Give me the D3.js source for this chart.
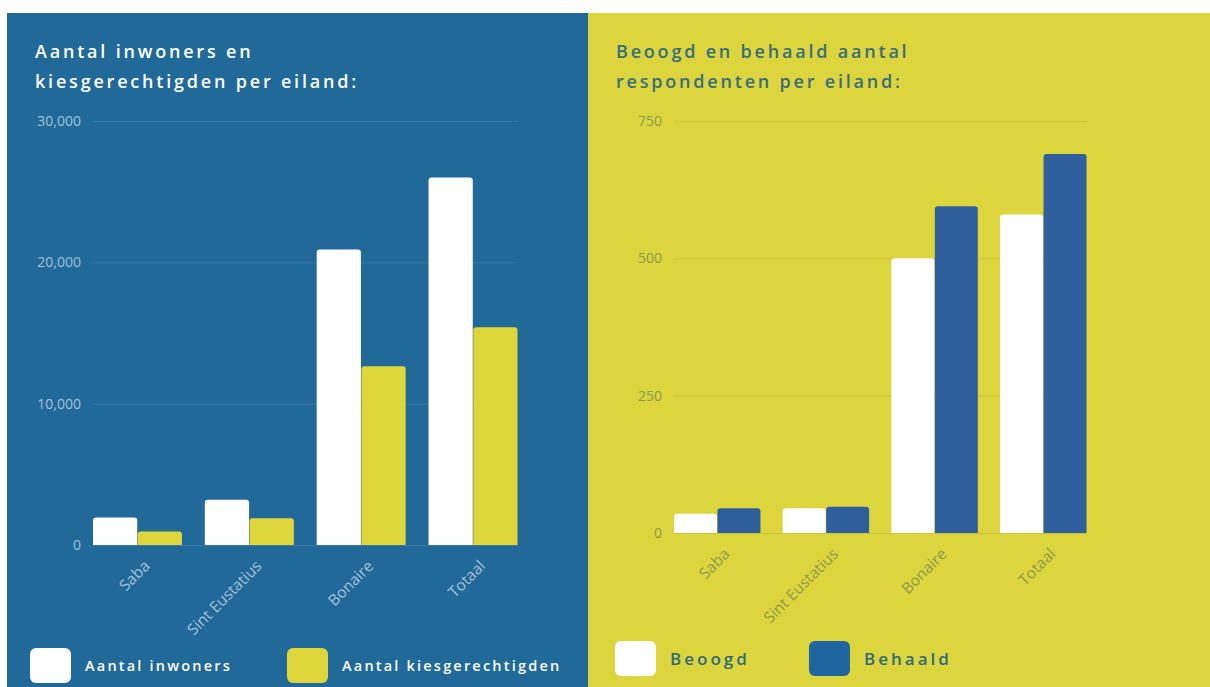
<!DOCTYPE html>
<html>
<head>
<meta charset="utf-8">
<script src="https://cdn.jsdelivr.net/npm/d3@7"></script>
<style>
  body { margin: 0; background: #fff; }
  svg { display: block; font-family: "Open Sans", sans-serif; }
</style>
</head>
<body>
<div class="chart"></div>
<script>
// DATA ------------------------------
let categories = ["Saba", "Sint Eustatius", "Bonaire", "Totaal"];
let inwoners = [1950, 3200, 20900, 26000];
let kiesgerechtigden = [950, 1900, 12650, 15400];
let beoogd = [35, 45, 500, 580];
let behaald = [45, 48, 595, 690];
let leftTicks = [0, 10000, 20000, 30000];
let rightTicks = [0, 250, 500, 750];

let svg = d3.select(".chart")
  .append("svg")
  .attr("width", 1210)
  .attr("height", 687);

// panel backgrounds
svg.append("rect").attr("x", 7).attr("y", 13).attr("width", 582).attr("height", 674).attr("fill", "#206999");
svg.append("rect").attr("x", 588).attr("y", 13).attr("width", 622).attr("height", 674).attr("fill", "#dcd53d");

// rect with rounded top corners
function topRounded(x, y, w, h, r) {
  r = Math.min(r, h, w / 2);
  return "M" + x + "," + (y + h) +
    "V" + (y + r) +
    "Q" + x + "," + y + " " + (x + r) + "," + y +
    "H" + (x + w - r) +
    "Q" + (x + w) + "," + y + " " + (x + w) + "," + (y + r) +
    "V" + (y + h) + "Z";
}

function drawChart(opts) {
  let g = svg.append("g");

  let x = d3.scaleBand()
    .domain(categories)
    .range(opts.xRange)
    .paddingInner(0.2)
    .paddingOuter(0);

  let x1 = d3.scaleBand()
    .domain([0, 1])
    .range([0, x.bandwidth()]);

  let y = d3.scaleLinear()
    .domain([0, opts.max])
    .range(opts.yRange);

  // y axis + gridlines
  let yAxis = d3.axisLeft(y)
    .tickValues(opts.ticks)
    .tickFormat(d3.format(","))
    .tickSize(-(opts.xRange[1] - opts.xRange[0]))
    .tickPadding(12);

  let yAxisGroup = g.append("g")
    .attr("class", "y-axis axis")
    .attr("transform", "translate(" + opts.xRange[0] + ",0)")
    .call(yAxis);
  yAxisGroup.select(".domain").remove();
  yAxisGroup.selectAll("line").attr("stroke", opts.gridColor).attr("stroke-width", 1);
  yAxisGroup.selectAll("text")
    .attr("fill", opts.labelColor)
    .attr("font-family", "Open Sans")
    .style("font-size", "14px");

  // x axis labels, rotated
  let xAxis = d3.axisBottom(x).tickSize(0);
  let xAxisGroup = g.append("g")
    .attr("class", "x-axis axis")
    .attr("transform", "translate(0," + opts.yRange[0] + ")")
    .call(xAxis);
  xAxisGroup.select(".domain").remove();
  xAxisGroup.selectAll("text")
    .attr("x", 0).attr("y", 0).attr("dy", 0)
    .attr("transform", "translate(13,22) rotate(-45)")
    .style("text-anchor", "end")
    .attr("fill", opts.labelColor)
    .attr("font-family", "Open Sans")
    .style("font-size", "15.5px");

  // bars
  opts.series.forEach(function(s, i) {
    g.selectAll(".bar" + i)
      .data(s.values)
      .enter()
      .append("path")
      .attr("class", "bar" + i)
      .attr("fill", s.color)
      .attr("d", function(d, j) {
        let bx = x(categories[j]) + x1(i);
        return topRounded(bx, y(d), x1.bandwidth() - 0.5, y(0) - y(d), 3);
      });
  });

  // title
  let title = g.append("text")
    .attr("fill", opts.titleColor)
    .style("font-size", "18px")
    .style("font-weight", 600)
    .style("letter-spacing", "2.8px");
  opts.title.forEach(function(line, i) {
    title.append("tspan")
      .attr("x", opts.titleX)
      .attr("y", 58 + i * 30)
      .text(line);
  });

  // legend
  opts.series.forEach(function(s) {
    g.append("rect")
      .attr("x", s.lx).attr("y", opts.legendY)
      .attr("width", 41).attr("height", 35)
      .attr("rx", 6)
      .attr("fill", s.legendColor || s.color);
    g.append("text")
      .attr("x", s.lx + 55)
      .attr("y", opts.legendY + 18)
      .attr("dy", "0.35em")
      .attr("fill", opts.legendTextColor)
      .style("font-size", opts.legendSize + "px")
      .style("font-weight", 600)
      .style("letter-spacing", opts.legendSpacing + "px")
      .text(s.name);
  });
}

drawChart({
  xRange: [93, 518],
  yRange: [545, 121],
  max: 30000,
  ticks: leftTicks,
  gridColor: "rgba(255,255,255,0.1)",
  labelColor: "rgba(255,255,255,0.6)",
  titleColor: "#ffffff",
  titleX: 35,
  title: ["Aantal inwoners en", "kiesgerechtigden per eiland:"],
  legendY: 648,
  legendTextColor: "#ffffff",
  legendSize: 14.5,
  legendSpacing: 2.2,
  series: [
    { name: "Aantal inwoners", values: inwoners, color: "#ffffff", lx: 30 },
    { name: "Aantal kiesgerechtigden", values: kiesgerechtigden, color: "#dfd63b", lx: 287 }
  ]
});

drawChart({
  xRange: [674, 1087],
  yRange: [533, 121],
  max: 750,
  ticks: rightTicks,
  gridColor: "rgba(120,120,40,0.18)",
  labelColor: "#8f9a4e",
  titleColor: "#376e7d",
  titleX: 616,
  title: ["Beoogd en behaald aantal", "respondenten per eiland:"],
  legendY: 641,
  legendTextColor: "#2f6b7b",
  legendSize: 17,
  legendSpacing: 3,
  series: [
    { name: "Beoogd", values: beoogd, color: "#ffffff", lx: 615 },
    { name: "Behaald", values: behaald, color: "#2f5f9c", legendColor: "#1f65a0", lx: 809 }
  ]
});
</script>
</body>
</html>
